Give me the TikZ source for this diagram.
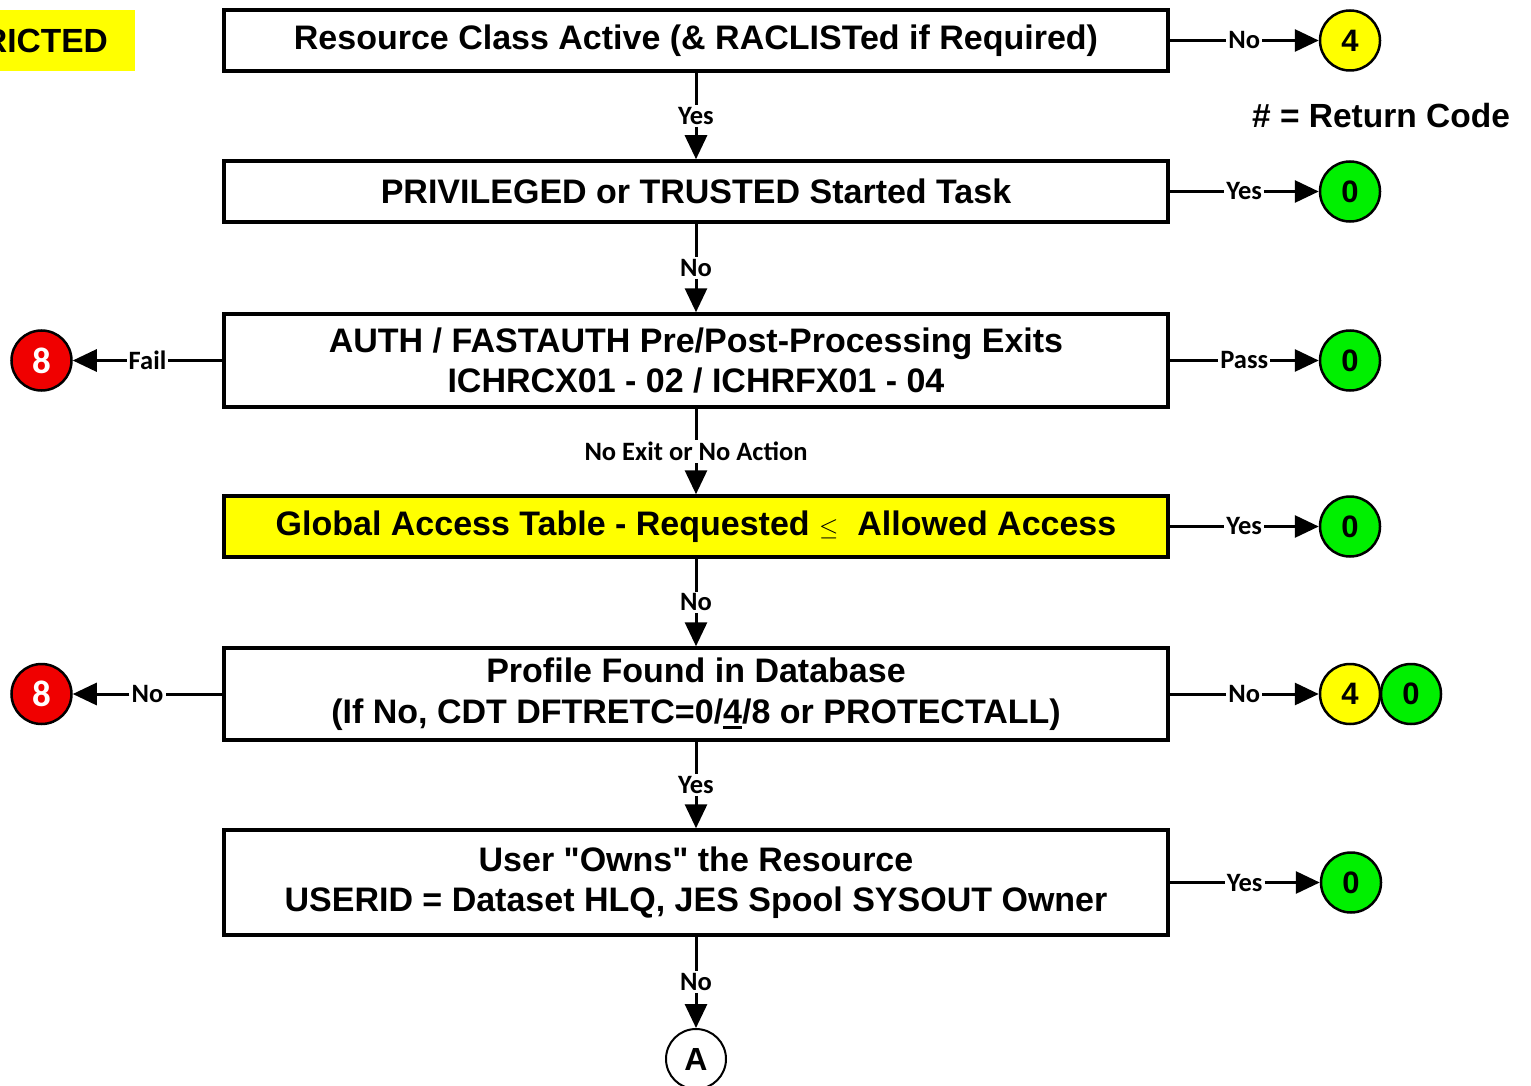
\documentclass[tikz,border=0pt]{standalone}
\usepackage{fontspec}
\setmainfont{Liberation Sans}
\newfontfamily\arial{Liberation Sans}
\newfontfamily\labfont{Carlito}
\usetikzlibrary{arrows.meta}
\definecolor{grn}{RGB}{0,240,0}
\definecolor{ylw}{RGB}{255,255,0}
\definecolor{rd}{RGB}{240,0,0}
\newcommand{\thickul}[1]{{\setbox0\hbox{#1}\rlap{\rule[-5.5pt]{\wd0}{3pt}}#1}}
\begin{document}
\begin{tikzpicture}[x=1pt,y=-1pt,
  box/.style={draw, line width=3.5pt, minimum width=944pt, align=center,
    font=\arial\fontsize{34}{40.5}\selectfont\bfseries, inner sep=0pt},
  seg/.style={line width=3pt},
  conn/.style={line width=3pt, -{Triangle[length=24pt,width=22pt]}},
  lab/.style={inner sep=2pt, font=\labfont\fontsize{26.5}{30}\selectfont\bfseries},
  rc/.style={circle, draw, line width=2.5pt, minimum size=60pt, inner sep=0pt,
    font=\arial\fontsize{31}{31}\selectfont\bfseries},
  redc/.style={rc, fill=rd, text=white, font=\labfont\fontsize{37}{37}\selectfont\bfseries},
  big/.style={inner sep=0pt, font=\arial\fontsize{33.5}{40}\selectfont\bfseries}
]
\useasboundingbox (0,0) rectangle (1531,1086);

% left yellow tag
\node[fill=ylw, minimum width=135pt, minimum height=61pt, anchor=north west, inner sep=0pt] (tag) at (0,10) {};
\node[big, anchor=east] (tagtxt) at (108,40.5) {RICTED};

% legend
\node[big] (leg) at (1381,116) {\# = Return Code};

% boxes
\node[box, minimum height=61pt] (b1) at (696,40.5) {Resource Class Active (\& RACLISTed if Required)};
\node[box, minimum height=61pt] (b2) at (696,191.5) {PRIVILEGED or TRUSTED Started Task};
\node[box, minimum height=93pt] (b3) at (696,360.5) {AUTH / FASTAUTH Pre/Post-Processing Exits\\ICHRCX01 - 02 / ICHRFX01 - 04};
\node[box, fill=ylw, minimum height=61pt] (b4) at (696,526.5) {Global Access Table - Requested $\leq$\ \ Allowed Access};
\node[box, minimum height=92pt] (b5) at (696,694) {Profile Found in Database\\(If No, CDT DFTRETC=0/\thickul{4}/8 or PROTECTALL)};
\node[box, minimum height=105pt] (b6) at (696,882.5) {User "Owns" the Resource\\USERID = Dataset HLQ, JES Spool SYSOUT Owner};

% right circles
\node[rc, fill=ylw] (r1) at (1350,40.5) {4};
\node[rc, fill=grn] (r2) at (1350,191.5) {0};
\node[rc, fill=grn] (r3) at (1350,360.5) {0};
\node[rc, fill=grn] (r4) at (1350,526.5) {0};
\node[rc, fill=ylw] (r5) at (1350,694) {4};
\node[rc, fill=grn] (r5b) at (1411,694) {0};
\node[rc, fill=grn] (r6) at (1351,882.5) {0};

% left circles
\node[redc] (l3) at (41.5,360.5) {8};
\node[redc] (l5) at (41.5,694) {8};

% connector circle A
\node[circle, draw, line width=2pt, minimum size=60pt, inner sep=0pt, fill=white,
  font=\arial\fontsize{32}{32}\selectfont\bfseries] (ca) at (696,1059) {A};

% connector labels
\path (b1.south) -- node[lab] (v1) {Yes} (b2.north);
\path (b2.south) -- node[lab] (v2) {No} (b3.north);
\path (b3.south) -- node[lab] (v3) {No Exit or No Action} (b4.north);
\path (b4.south) -- node[lab] (v4) {No} (b5.north);
\path (b5.south) -- node[lab] (v5) {Yes} (b6.north);
\path (b6.south) -- node[lab] (v6) {No} (ca.north);
\path (b1.east) -- node[lab] (h1) {No} (r1);
\path (b2.east) -- node[lab] (h2) {Yes} (r2);
\path (b3.east) -- node[lab] (h3) {Pass} (r3);
\path (b4.east) -- node[lab] (h4) {Yes} (r4);
\path (b5.east) -- node[lab] (h5) {No} (r5);
\path (b6.east) -- node[lab] (h6) {Yes} (r6);
\path (b3.west) -- node[lab] (f3) {Fail} (l3);
\path (b5.west) -- node[lab] (f5) {No} (l5);

% vertical connectors
\draw[seg] (b1.south) -- (v1.north); \draw[conn] (v1.south) -- (b2.north);
\draw[seg] (b2.south) -- (v2.north); \draw[conn] (v2.south) -- (b3.north);
\draw[seg] (b3.south) -- (v3.north); \draw[conn] (v3.south) -- (b4.north);
\draw[seg] (b4.south) -- (v4.north); \draw[conn] (v4.south) -- (b5.north);
\draw[seg] (b5.south) -- (v5.north); \draw[conn] (v5.south) -- (b6.north);
\draw[seg] (b6.south) -- (v6.north); \draw[conn] (v6.south) -- (ca.north);

% right connectors
\draw[seg] (b1.east) -- (h1.west); \draw[conn] (h1.east) -- (r1);
\draw[seg] (b2.east) -- (h2.west); \draw[conn] (h2.east) -- (r2);
\draw[seg] (b3.east) -- (h3.west); \draw[conn] (h3.east) -- (r3);
\draw[seg] (b4.east) -- (h4.west); \draw[conn] (h4.east) -- (r4);
\draw[seg] (b5.east) -- (h5.west); \draw[conn] (h5.east) -- (r5);
\draw[seg] (b6.east) -- (h6.west); \draw[conn] (h6.east) -- (r6);

% left connectors
\draw[seg] (b3.west) -- (f3.east); \draw[conn] (f3.west) -- (l3);
\draw[seg] (b5.west) -- (f5.east); \draw[conn] (f5.west) -- (l5);
\end{tikzpicture}
\end{document}
